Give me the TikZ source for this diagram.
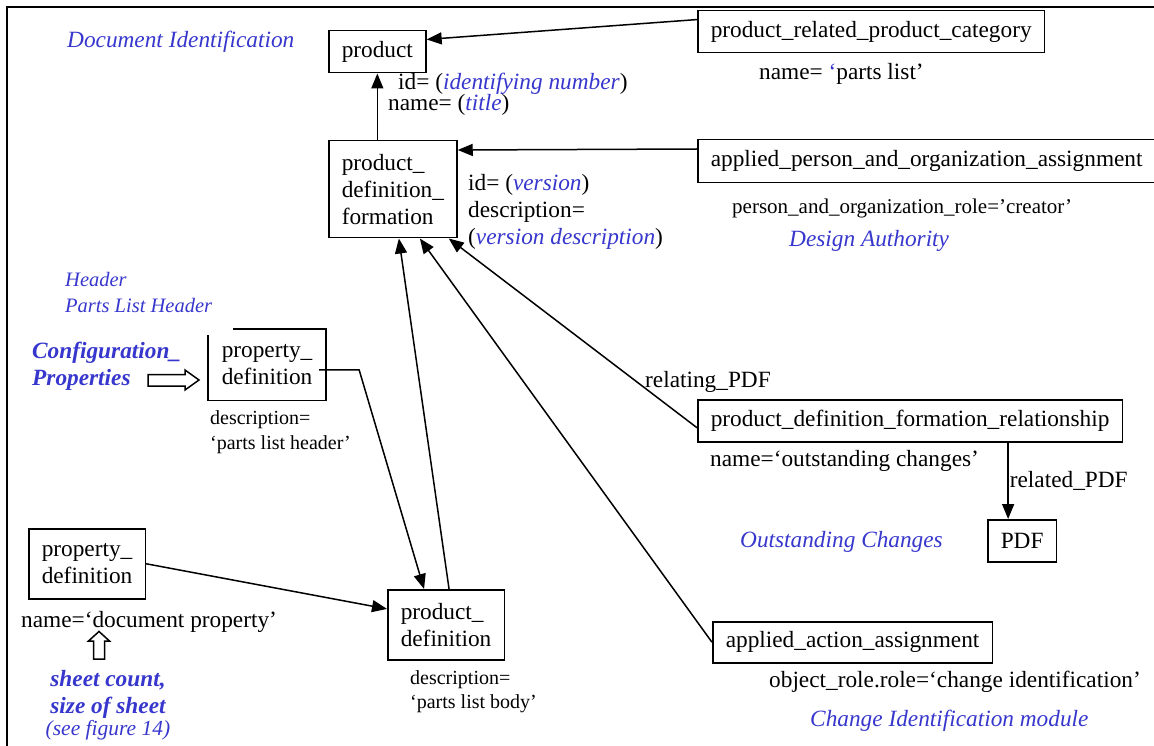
\documentclass[tikz,border=0pt]{standalone}
\usepackage{fontspec}
\setmainfont{Liberation Serif}
\usetikzlibrary{arrows.meta}
\definecolor{noteblue}{RGB}{55,55,205}

\tikzset{
  entity/.style={draw, line width=1.5pt, inner xsep=13pt, inner ysep=0pt, align=left, anchor=north west},
  attr/.style={anchor=west, inner sep=0pt, align=left},
  small/.style={font=\fontsize{20}{24.5}\selectfont},
  note/.style={anchor=west, inner sep=0pt, align=left, text=noteblue, font=\itshape},
  ref/.style={-{Triangle[length=15pt,width=12pt]}, line width=1.5pt},
  hollow/.style={line width=1.5pt, line join=miter}
}

\begin{document}
\fontsize{23.3}{27}\selectfont
\begin{tikzpicture}[x=1pt,y=-1pt]
  \useasboundingbox (0,0) rectangle (1154,746);
  \clip (0,0) rectangle (1154,746);
  \draw[line width=2pt] (7,746) -- (7,7) -- (1154,7);
  % entities
  \node[entity, minimum height=42pt] (product) at (328,30) {product};
  \node[entity, minimum height=42pt] (prc) at (697,10) {product\_related\_product\_category};
  \node[entity, minimum height=97pt] (pdff) at (328,140) {product\_\\definition\_\\formation};
  \node[entity, minimum height=43pt] (apoa) at (697,139) {applied\_person\_and\_organization\_assignment};
  \node[entity, minimum height=42pt] (pdfr) at (697,399) {product\_definition\_formation\_relationship};
  \node[entity, minimum height=42pt] (PDF) at (987,519) {PDF};
  \node[entity, minimum height=41pt] (aaa) at (712,621) {applied\_action\_assignment};
  \node[entity, minimum height=70pt] (pd) at (387,589) {product\_\\definition};
  \node[entity, draw=none, minimum height=70pt] (hdrdef) at (208,329) {property\_\\definition};
  \draw[line width=1.5pt] ([xshift=25pt]hdrdef.north west) -- (hdrdef.north east) -- (hdrdef.south east)
    -- (hdrdef.south west) -- ([yshift=-6pt]hdrdef.north west);
  \node[entity, minimum height=70pt] (docdef) at (28,528) {property\_\\definition};
  % attribute values
  \node[attr] (prodid) at (398,84) {id= (\textcolor{noteblue}{\textit{identifying number}})};
  \node[attr] (prodname) at (388,105) {name= (\textcolor{noteblue}{\textit{title}})};
  \node[attr] (catname) at (759,74) {name= \textcolor{noteblue}{‘}parts list’};
  \node[attr] (pdffattr) at (468,212) {id= (\textcolor{noteblue}{\textit{version}})\\description=\\(\textcolor{noteblue}{\textit{version description}})};
  \node[attr, font=\fontsize{21}{25}\selectfont] (role) at (732,208) {person\_and\_organization\_role=’creator’};
  \node[attr, small] (hdrdesc) at (210,432) {description=\\‘parts list header’};
  \node[attr] (docname) at (21,622) {name=‘document property’};
  \node[attr, small] (pddesc) at (410,691.5) {description=\\‘parts list body’};
  \node[attr] (relating) at (645,382) {relating\_PDF};
  \node[attr] (relname) at (710,461) {name=‘outstanding changes’};
  \node[attr] (objrole) at (769,682) {object\_role.role=‘change identification’};
  % module notes
  \node[note] (docident) at (67,42) {Document Identification};
  \node[note] (authority) at (789,241) {Design Authority};
  \node[note, font=\fontsize{20.5}{26}\selectfont\itshape] (header) at (65,292) {Header\\Parts List Header};
  \node[note, font=\bfseries\itshape] (config) at (32,366) {Configuration\_\\Properties};
  \node[note, font=\bfseries\itshape, anchor=center, align=center] (sheet) at (108,694) {sheet count,\\size of sheet};
  \node[note, font=\fontsize{21.5}{25}\selectfont\itshape, anchor=center] (seefig) at (108,730) {(see figure 14)};
  \node[note] (outstanding) at (740,542) {Outstanding Changes};
  \node[note] (changemod) at (810,721) {Change Identification module};
  % hollow arrows
  \draw[hollow] (148,374.5) -- (185,374.5) -- (185,370) -- (199,380) -- (185,390) -- (185,386) -- (148,386) -- cycle;
  \draw[hollow] (93.5,659) -- (93.5,641) -- (88.5,641) -- (99,631.5) -- (109.5,641) -- (104.5,641) -- (104.5,659) -- cycle;
  % references
  \draw[ref] (pdff.north -| product.south) -- (product.south);
  \draw[ref] (prc.176) -- (product.14);
  \draw[ref] ([yshift=-10pt]apoa.north west) -- ([yshift=-10pt]pdff.north east);
  \draw[ref] ([yshift=-7pt]pdfr.west) -- ([xshift=-9pt]pdff.south east);
  \draw[ref] (aaa.west) -- ([xshift=27pt]pdff.south);
  \draw[ref] ([xshift=3pt]pd.north) -- ([xshift=6pt]pdff.south);
  \draw[ref] ([xshift=-7pt,yshift=-5pt]hdrdef.east) -- ++(40,0) -- ([xshift=-22pt]pd.north);
  \draw[ref] (docdef.east) -- (pd.165);
  \draw[ref] ([xshift=-14pt]PDF.north |- pdfr.south) -- ([xshift=-14pt]PDF.north)
    node[midway, right, inner sep=1pt] (relatedlbl) {related\_PDF};
\end{tikzpicture}
\end{document}
